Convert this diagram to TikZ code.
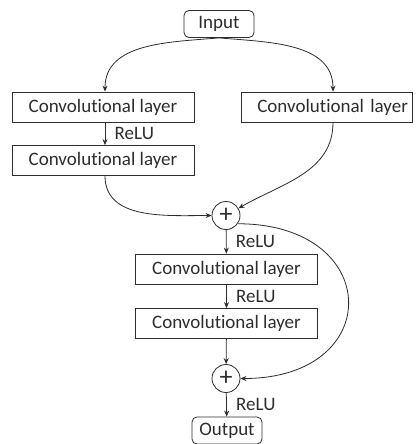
\documentclass[tikz,border=0pt]{standalone}
\usepackage{fontspec}
\setmainfont{Carlito}[Ligatures=NoCommon]
\usetikzlibrary{arrows.meta}
\definecolor{ink}{RGB}{45,45,45}

\begin{document}
\begin{tikzpicture}[->,>={Stealth[length=6pt,width=5pt]},line width=0.8pt,draw=ink,
  every node/.style={font=\fontsize{19pt}{22pt}\selectfont,text=ink},
  layer/.style={draw,rectangle,minimum width=182pt,minimum height=30pt,inner sep=0pt},
  term/.style={draw,rounded corners=5pt,minimum width=70pt,minimum height=27pt,inner sep=0pt},
  plus/.style={draw,circle,minimum size=28pt,inner sep=0pt,font=\fontsize{26pt}{26pt}\selectfont},
  relu/.style={right,xshift=6pt}]

\useasboundingbox (-219pt,24pt) rectangle (196pt,-420pt);

\node[term](input){Input};
\node[layer](conv1)[node distance=83pt,below of=input,xshift=-116pt]{Convolutional layer};
\node[layer,minimum width=171pt,text width=163pt,inner xsep=4pt,align=right](conv2)[node distance=223.5pt,right of=conv1]{Convolutional layer};
\node[layer](conv1b)[node distance=53.5pt,below of=conv1]{Convolutional layer};
\node[plus](add1)[node distance=55pt,below of=conv1b,xshift=123pt]{+};
\node[layer](conv3)[node distance=53.5pt,below of=add1,xshift=0.5pt]{Convolutional layer};
\node[layer](conv4)[node distance=54.5pt,below of=conv3]{Convolutional layer};
\node[plus](add2)[node distance=55pt,below of=conv4,xshift=-0.5pt]{+};
\node[term](output)[node distance=52pt,below of=add2,xshift=1pt]{Output};

\path(input.south)edge[out=185,in=90] ([xshift=2pt]conv1.north)
     (input.south)edge[out=-5,in=90] ([xshift=6.5pt]conv2.north)
     ([xshift=2pt]conv1.south)edge node[relu]{ReLU} ([xshift=2pt]conv1b.north)
     ([xshift=6.5pt]conv2.south)edge[out=-90,in=30] (add1)
     ([xshift=2pt]conv1b.south)edge[out=-90,in=180] (add1)
     (add1)edge node[relu]{ReLU} (conv3)
     (add1.-35)edge[out=0,in=0,looseness=2.4] (add2)
     (conv3)edge node[relu]{ReLU} (conv4)
     (conv4)edge (add2)
     (add2)edge node[relu]{ReLU} (output);

\end{tikzpicture}
\end{document}
